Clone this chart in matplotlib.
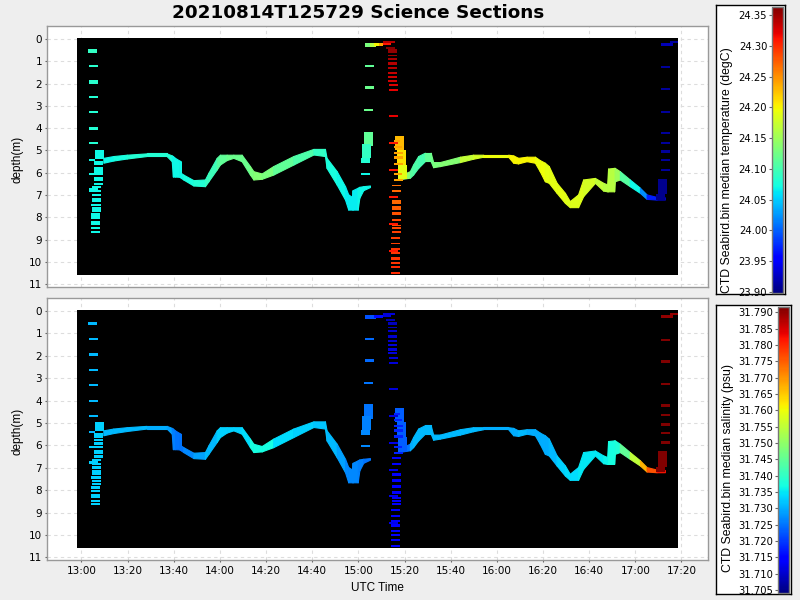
#! /usr/bin/env python3
import matplotlib
matplotlib.use('Agg')
import matplotlib.pyplot as plt
from matplotlib.cm import ScalarMappable
from matplotlib.colors import Normalize

title = '20210814T125729 Science Sections'
temp_label = 'CTD Seabird.bin median temperature (degC)'
sal_label = 'CTD Seabird.bin median salinity (psu)'

# x values are minutes after 13:00
time_ticks = [0, 20, 40, 60, 80, 100, 120, 140, 160, 180, 200, 220, 240, 260]
time_labels = ['13:00', '13:20', '13:40', '14:00', '14:20', '14:40', '15:00',
               '15:20', '15:40', '16:00', '16:20', '16:40', '17:00', '17:20']
depth_ticks = [0, 1, 2, 3, 4, 5, 6, 7, 8, 9, 10, 11]
temp_ticks = [23.90, 23.95, 24.00, 24.05, 24.10, 24.15, 24.20, 24.25, 24.30, 24.35]
sal_ticks = [31.705, 31.710, 31.715, 31.720, 31.725, 31.730, 31.735, 31.740, 31.745,
             31.750, 31.755, 31.760, 31.765, 31.770, 31.775, 31.780, 31.785, 31.790]

# the long tow between the profiles
tow1_time = [9.46, 13.8, 19.6, 28.2, 36.9, 39.1, 39.6, 40.5, 42.4, 42.9, 43.0, 44.1, 48.5, 53.5, 55.0, 58.6,
             60.0, 62.9, 65.8, 69.4, 73.0, 74.5, 78.1, 83.1, 91.8, 100.5, 105.5, 106.2,
             110.6, 114.2, 115.6, 117.4, 117.5, 119.7, 120.4, 122.1, 125.0]
tow1_top = [5.33, 5.25, 5.19, 5.13, 5.13, 5.22, 5.25, 5.33, 5.45, 5.48, 6.00, 6.08, 6.33, 6.30, 6.00, 5.33,
            5.19, 5.19, 5.19, 5.19, 5.70, 5.93, 6.03, 5.70, 5.25, 4.93, 4.93, 5.33,
            5.93, 6.60, 6.97, 7.09, 6.78, 6.67, 6.63, 6.60, 6.57]
tow1_bottom = [5.55, 5.45, 5.36, 5.25, 5.25, 5.48, 6.17, 6.17, 6.18, 6.20, 6.22, 6.30, 6.57, 6.60, 6.38, 5.85,
               5.63, 5.43, 5.33, 5.48, 6.08, 6.30, 6.27, 6.08, 5.63, 5.18, 5.25, 5.78,
               6.53, 7.20, 7.65, 7.65, 7.65, 7.65, 7.12, 6.78, 6.64]
tow1_temp = [24.07, 24.075, 24.08, 24.08, 24.08, 24.07, 24.07, 24.07, 24.07, 24.07, 24.07, 24.075, 24.08, 24.09,
             24.095, 24.11, 24.115, 24.12, 24.12, 24.12, 24.13, 24.135, 24.13, 24.115, 24.105,
             24.09, 24.08, 24.075, 24.07, 24.065, 24.065, 24.065, 24.065, 24.07, 24.07,
             24.07, 24.075]
tow1_sal = [31.731, 31.731, 31.731, 31.730, 31.729, 31.726, 31.726, 31.725, 31.725, 31.725, 31.725, 31.727, 31.729,
            31.731, 31.731, 31.733, 31.733, 31.733, 31.733, 31.734, 31.737, 31.737, 31.737,
            31.734, 31.733, 31.732, 31.732, 31.731, 31.729, 31.727, 31.727, 31.727, 31.727,
            31.726, 31.726, 31.725, 31.725]

tow2_time = [137.2, 142.3, 143.7, 145.9, 148.8, 151.3, 152.4, 155.3, 164.0, 169.7, 174.1, 184.9,
             187.1, 189.2, 192.9, 196.5, 198.6, 200.8, 202.5, 205.9, 209.5, 211.6, 215.2,
             217.4, 222.5, 226.1, 227.8, 228.2, 230.8, 231.1, 233.3, 237.6, 242.0, 244.9,
             249.2, 252.8]
tow2_top = [6.15, 5.93, 5.63, 5.25, 5.10, 5.10, 5.52, 5.52, 5.28, 5.19, 5.19, 5.19,
            5.22, 5.33, 5.28, 5.28, 5.43, 5.55, 5.70, 6.45, 6.90, 7.27, 6.97,
            6.30, 6.23, 6.45, 6.52, 5.81, 5.78, 5.78, 5.93, 6.30, 6.67, 6.97,
            7.08, 7.10]
tow2_bottom = [6.30, 6.22, 6.08, 5.78, 5.48, 5.48, 5.75, 5.70, 5.52, 5.37, 5.28, 5.28,
               5.55, 5.58, 5.48, 5.55, 5.93, 6.38, 6.45, 6.90, 7.35, 7.54, 7.54,
               7.05, 6.45, 6.80, 6.83, 6.83, 6.83, 6.38, 6.30, 6.60, 6.90, 7.17,
               7.20, 7.20]
tow2_temp = [24.14, 24.11, 24.105, 24.10, 24.115, 24.125, 24.13, 24.135, 24.17, 24.18, 24.195,
             24.20, 24.20, 24.20, 24.20, 24.195, 24.195, 24.19, 24.19, 24.19, 24.185, 24.185,
             24.185, 24.18, 24.17, 24.165, 24.165, 24.165, 24.16, 24.15, 24.11, 24.07, 24.02,
             23.97, 23.93, 23.91]
tow2_sal = [31.725, 31.730, 31.731, 31.731, 31.731, 31.731, 31.731, 31.731, 31.731, 31.731,
            31.730, 31.730, 31.730, 31.731, 31.730, 31.730, 31.730, 31.730, 31.731, 31.733,
            31.734, 31.734, 31.735, 31.735, 31.735, 31.736, 31.736, 31.737, 31.737, 31.738,
            31.745, 31.755, 31.767, 31.776, 31.782, 31.792]

# profile cells: start, end, top depth, bottom depth, temperature, salinity
cell_start = [2.8, 3.25, 3.25, 3.25, 3.25, 3.25, 3.25, 3.25, 5.85, 5.4, 5.4, 5.4, 3.25, 5.4, 5.4,
              4.55, 3.25, 4.55, 4.55, 4.55, 4.1, 4.55, 4.55, 4.1, 4.1, 4.1, 4.1, 4.1,
              122.9, 122.9, 122.4, 122.4, 121.6, 121.1, 121.1,
              122.8, 125.0, 126.7, 129.0, 130.7, 130.7,
              131.9, 132.8, 132.8, 132.8, 132.8, 132.8, 132.8, 132.8, 132.8, 133.2, 133.2,
              135.8, 136.7, 137.1,
              135.4, 135.4, 135.4, 135.4, 135.4, 135.4, 135.4,
              134.5, 134.5, 134.5, 134.5, 134.5, 134.5, 134.5, 134.5, 134.5,
              134.1, 134.1, 134.1, 134.1, 134.1, 134.1, 134.1, 134.1,
              133.2, 133.2, 133.2, 133.2, 133.2, 133.2,
              251.1, 251.1, 251.1, 251.1, 251.1, 251.1, 251.1, 251.1,
              251.1, 255.0, 249.8, 248.9]
cell_end = [6.7, 7.15, 7.15, 7.15, 7.15, 7.15, 7.15, 5.85, 9.75, 9.3, 9.3, 9.3, 9.3, 9.3, 9.3,
            8.45, 7.15, 8.45, 8.45, 8.45, 8.45, 8.45, 8.45, 8.0, 8.0, 8.0, 8.0, 8.0,
            126.7, 126.7, 126.3, 126.3, 125.4, 125.0, 125.0,
            125.0, 127.6, 129.0, 130.7, 134.2, 135.8,
            135.8, 136.7, 136.7, 136.7, 136.7, 136.7, 136.7, 136.7, 136.7, 137.1, 137.1,
            139.7, 140.6, 141.0,
            138.0, 138.8, 139.4, 139.4, 139.4, 138.7, 139.4,
            138.4, 138.4, 138.4, 138.4, 138.4, 138.4, 138.4, 138.4, 138.4,
            138.0, 138.0, 138.0, 138.0, 138.0, 138.0, 138.0, 138.0,
            137.1, 137.1, 137.1, 137.1, 137.1, 137.1,
            255.0, 255.0, 255.0, 255.0, 255.0, 255.0, 255.0, 255.0,
            256.4, 258.4, 253.8, 252.8]
cell_top = [0.47, 1.19, 1.86, 2.58, 3.25, 3.97, 4.64, 5.36, 4.96, 5.45, 5.72, 5.85, 6.03, 6.21, 6.44,
            6.61, 6.70, 6.79, 6.93, 7.11, 7.38, 7.53, 7.69, 7.82, 8.00, 8.18, 8.45, 8.59,
            1.19, 2.13, 3.16, 4.15, 4.69, 5.33, 5.99,
            0.16, 0.16, 0.19, 0.19, 0.14, 0.11,
            0.34, 0.47, 0.70, 0.87, 1.05, 1.28, 1.46, 1.64, 1.82, 2.04, 2.26,
            4.33, 4.96, 5.63,
            4.55, 4.82, 5.09, 5.27, 5.55, 6.03, 6.30,
            6.53, 6.79, 7.24, 7.51, 7.78, 8.05, 8.32, 8.45, 8.59,
            8.86, 9.13, 9.35, 9.53, 9.76, 9.98, 10.20, 10.43,
            3.43, 4.64, 5.85, 7.06, 8.23, 9.44,
            1.23, 2.19, 3.21, 4.15, 4.60, 5.00, 5.40, 5.81,
            0.20, 0.11, 6.27, 6.97]
cell_bottom = [0.61, 1.28, 2.00, 2.67, 3.34, 4.06, 4.73, 5.45, 5.36, 5.67, 5.81, 5.99, 6.12, 6.39, 6.57,
               6.70, 6.84, 6.88, 7.06, 7.33, 7.51, 7.65, 7.78, 7.96, 8.09, 8.36, 8.54, 8.68,
               1.28, 2.26, 3.25, 4.81, 5.33, 5.54, 6.08,
               0.38, 0.38, 0.31, 0.31, 0.25, 0.20,
               0.43, 0.61, 0.78, 0.96, 1.19, 1.37, 1.55, 1.77, 1.91, 2.13, 2.35,
               4.96, 5.63, 6.30,
               4.64, 4.91, 5.18, 5.40, 5.67, 6.12, 6.39,
               6.61, 6.88, 7.38, 7.65, 7.91, 8.18, 8.40, 8.54, 8.68,
               8.95, 9.21, 9.44, 9.66, 9.89, 10.07, 10.29, 10.52,
               3.52, 4.73, 5.94, 7.15, 8.32, 9.53,
               1.32, 2.31, 3.30, 4.28, 4.69, 5.13, 5.49, 5.94,
               0.32, 0.20, 6.97, 7.20]
cell_temp = [24.09, 24.085, 24.085, 24.08, 24.08, 24.08, 24.08, 24.07, 24.07, 24.07, 24.07, 24.07, 24.07, 24.07, 24.07,
             24.07, 24.07, 24.07, 24.07, 24.07, 24.07, 24.07, 24.07, 24.07, 24.07, 24.07, 24.07, 24.07,
             24.115, 24.12, 24.12, 24.115, 24.09, 24.08, 24.07,
             24.13, 24.16, 24.20, 24.24, 24.31, 24.34,
             24.36, 24.355, 24.35, 24.345, 24.34, 24.34, 24.335, 24.33, 24.33, 24.325, 24.32,
             24.23, 24.21, 24.19,
             24.24, 24.24, 24.24, 24.24, 24.24, 24.24, 24.24,
             24.265, 24.27, 24.27, 24.275, 24.28, 24.285, 24.285, 24.285, 24.29,
             24.29, 24.29, 24.295, 24.295, 24.295, 24.295, 24.30, 24.30,
             24.32, 24.31, 24.31, 24.31, 24.31, 24.31,
             23.91, 23.91, 23.91, 23.91, 23.91, 23.91, 23.91, 23.91,
             23.92, 23.91, 23.905, 23.905]
cell_sal = [31.731, 31.731, 31.731, 31.731, 31.731, 31.731, 31.731, 31.731, 31.733, 31.733, 31.733, 31.733, 31.733, 31.733, 31.733,
            31.733, 31.733, 31.733, 31.733, 31.733, 31.733, 31.733, 31.733, 31.733, 31.733, 31.733, 31.733, 31.733,
            31.724, 31.724, 31.725, 31.725, 31.726, 31.727, 31.727,
            31.722, 31.722, 31.716, 31.716, 31.711, 31.711,
            31.708, 31.709, 31.709, 31.710, 31.710, 31.710, 31.711, 31.711, 31.711, 31.711, 31.711,
            31.723, 31.723, 31.723,
            31.718, 31.718, 31.718, 31.718, 31.718, 31.718, 31.718,
            31.714, 31.714, 31.714, 31.714, 31.714, 31.714, 31.714, 31.714, 31.714,
            31.714, 31.714, 31.714, 31.714, 31.714, 31.714, 31.714, 31.714,
            31.711, 31.711, 31.712, 31.712, 31.712, 31.712,
            31.792, 31.792, 31.792, 31.792, 31.792, 31.792, 31.792, 31.792,
            31.790, 31.790, 31.792, 31.792]

# extent of the plotted grid, minutes and metres
grid_time = [-1.95, 258.5]
grid_depth = [-0.06, 10.6]

bg = '#eeeeee'
spine_col = '#999999'
grid_col = '#dddddd'


def px_axes(fig, left, top, right, bottom):
    return fig.add_axes([left / 800, 1 - bottom / 600, (right - left) / 800, (bottom - top) / 600])


def draw_section(ax, norm, tow1_val, tow2_val, cell_val):
    cmap = plt.get_cmap('jet')
    ax.set_facecolor('white')
    ax.barh(grid_depth[0], grid_time[1] - grid_time[0], grid_depth[1] - grid_depth[0],
            left=grid_time[0], align='edge', color='black', linewidth=0, zorder=2)
    for t, top, bot, val in ((tow1_time, tow1_top, tow1_bottom, tow1_val),
                             (tow2_time, tow2_top, tow2_bottom, tow2_val)):
        for i in range(len(t) - 1):
            ax.fill_between(t[i:i + 2], top[i:i + 2], bot[i:i + 2], color=cmap(norm(val[i])),
                            linewidth=0.8, antialiased=False, zorder=3)
    for i in range(len(cell_start)):
        ax.barh(cell_top[i], cell_end[i] - cell_start[i], cell_bottom[i] - cell_top[i],
                left=cell_start[i], align='edge', color=cmap(norm(cell_val[i])),
                linewidth=0, antialiased=False, zorder=4)
    ax.set_xlim(-14.95, 271.5)
    ax.set_ylim(11.12, -0.58)
    ax.set_xticks(time_ticks)
    ax.set_yticks(depth_ticks)
    ax.grid(True, color=grid_col, linestyle=(0, (3, 3)), linewidth=0.8, zorder=1)
    ax.set_axisbelow(True)
    ax.tick_params(labelsize=7.5, length=1.5, width=0.8, color='#666666', pad=2)
    ax.set_ylabel('depth(m)', fontsize=8.5, family='Liberation Sans')
    ax.yaxis.set_label_coords(-0.035, 0.49)
    for s in ax.spines.values():
        s.set_color(spine_col)
        s.set_linewidth(1)


def draw_colorbar(fig, norm, box, strip, ticks, fmt):
    box_ax = px_axes(fig, *box)
    box_ax.set_xticks([])
    box_ax.set_yticks([])
    box_ax.set_facecolor('white')
    for s in box_ax.spines.values():
        s.set_color('black')
        s.set_linewidth(1)
    cax = px_axes(fig, *strip)
    cb = fig.colorbar(ScalarMappable(norm=norm, cmap='jet'), cax=cax)
    cax.yaxis.set_ticks_position('left')
    cb.set_ticks(ticks)
    cb.set_ticklabels([fmt.format(v) for v in ticks])
    cax.tick_params(labelsize=7.2, length=2.5, width=0.8, color='#666666', pad=1)
    cb.outline.set_edgecolor('#777777')
    cb.outline.set_linewidth(1)


fig = plt.figure(figsize=(8, 6), dpi=100, facecolor=bg)

temp_norm = Normalize(23.898, 24.363)
sal_norm = Normalize(31.7041, 31.7916)

ax1 = px_axes(fig, 47, 26, 708, 287)
draw_section(ax1, temp_norm, tow1_temp, tow2_temp, cell_temp)
ax1.tick_params(axis='x', length=0, labelbottom=False)

ax2 = px_axes(fig, 47, 298, 708, 560)
draw_section(ax2, sal_norm, tow1_sal, tow2_sal, cell_sal)
ax2.set_xticklabels(time_labels)
ax2.tick_params(axis='x', pad=3)
ax2.set_xlabel('UTC Time', fontsize=8.5, labelpad=4, family='Liberation Sans')

draw_colorbar(fig, temp_norm, (716, 5, 785, 294), (772, 7, 783, 293), temp_ticks, '{:.2f}')
draw_colorbar(fig, sal_norm, (716, 305, 791, 594), (778, 307, 789, 593), sal_ticks, '{:.3f}')

fig.text(727 / 800, 1 - 170 / 600, temp_label, rotation=90, fontsize=8.8,
         family='Liberation Sans', ha='center', va='center')
fig.text(728 / 800, 1 - 468 / 600, sal_label, rotation=90, fontsize=8.8,
         family='Liberation Sans', ha='center', va='center')
fig.text(358.5 / 800, 1 - 13 / 600, title, fontsize=13.2, fontweight='bold', ha='center', va='center')

fig.savefig('out.png', dpi=100, facecolor=bg)
